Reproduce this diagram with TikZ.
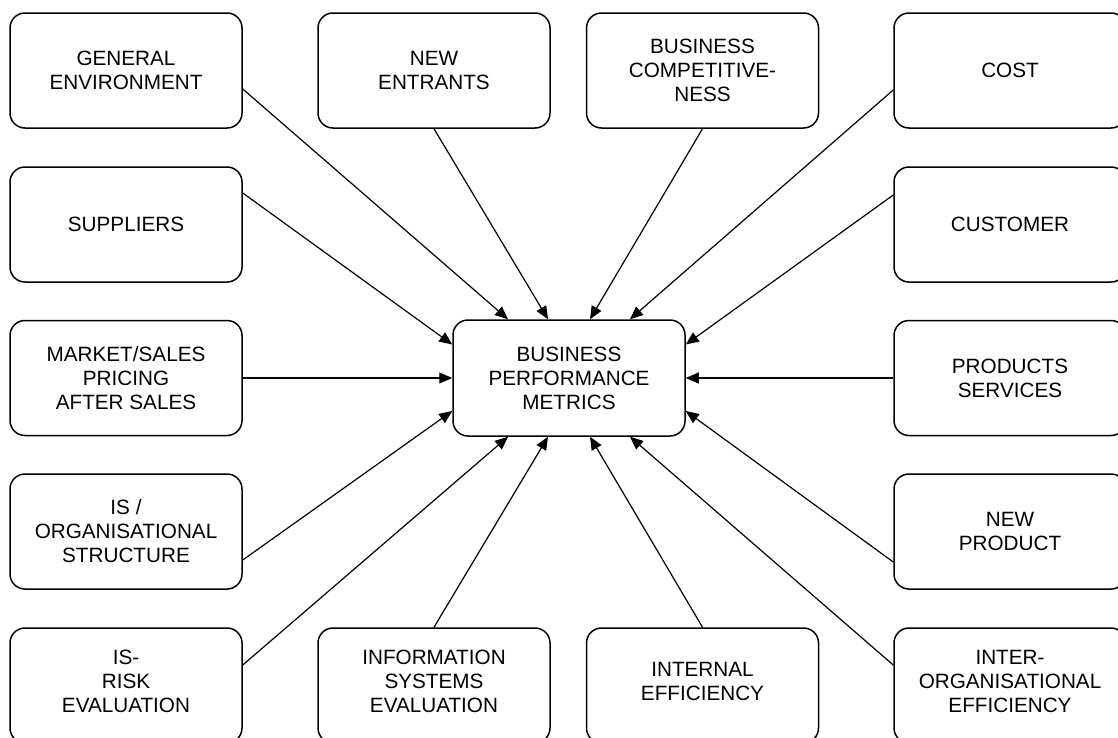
\documentclass[tikz,border=0pt]{standalone}
\usepackage{fontspec}
\setmainfont{Liberation Sans}
\usetikzlibrary{arrows.meta}
\begin{document}
\begin{tikzpicture}[x=1pt,y=-1pt,
  box/.style={draw, line width=1.5pt, rounded corners=15pt, minimum width=232pt, minimum height=115pt,
    inner sep=0pt, align=center, font=\fontsize{20.7}{24}\selectfont},
  lowbox/.style={box, text depth=9pt},
  arr/.style={line width=1.2pt, -{Triangle[length=13pt,width=11pt]}}]
\useasboundingbox (0,0) rectangle (1118,737);
\clip (0,0) rectangle (1118,737);
\fill[white] (0,0) rectangle (1118,737);
% boxes
\node[box] (ge) at (126,70.5) {GENERAL\\ENVIRONMENT};
\node[box] (ne) at (434,70.5) {NEW\\ENTRANTS};
\node[box] (bc) at (702.5,70.5) {BUSINESS\\COMPETITIVE-\\NESS};
\node[box] (cost) at (1010,70.5) {COST};
\node[box] (sup) at (126,224.5) {SUPPLIERS};
\node[box] (cust) at (1010,224.5) {CUSTOMER};
\node[box] (mkt) at (126,378) {MARKET/SALES\\PRICING\\AFTER SALES};
\node[box, minimum height=116pt] (bpm) at (569,378) {BUSINESS\\PERFORMANCE\\METRICS};
\node[box] (prod) at (1010,378) {PRODUCTS\\SERVICES};
\node[box] (iso) at (126,531.5) {IS /\\ORGANISATIONAL\\STRUCTURE};
\node[box] (np) at (1010,531.5) {NEW\\PRODUCT};
\node[lowbox] (risk) at (126,685.5) {IS-\\RISK\\EVALUATION};
\node[lowbox] (ise) at (434,685.5) {INFORMATION\\SYSTEMS\\EVALUATION};
\node[lowbox] (ie) at (702.5,685.5) {INTERNAL\\EFFICIENCY};
\node[lowbox] (io) at (1010,685.5) {INTER-\\ORGANISATIONAL\\EFFICIENCY};
% connectors
\draw[arr] ([yshift=-18.5pt]ge.east) -- ([xshift=-61pt]bpm.north);
\draw[arr] (ne.south) -- ([xshift=-21pt]bpm.north);
\draw[arr] (bc.south) -- ([xshift=21pt]bpm.north);
\draw[arr] ([yshift=-19.5pt]cost.west) -- ([xshift=61pt]bpm.north);
\draw[arr] ([yshift=31.5pt]sup.east) -- ([yshift=33.5pt]bpm.west);
\draw[arr] ([yshift=29.5pt]cust.west) -- ([yshift=33.5pt]bpm.east);
\draw[arr] (mkt.east) -- (bpm.west);
\draw[arr] (prod.west) -- (bpm.east);
\draw[arr] ([yshift=-28.5pt]iso.east) -- ([yshift=-33pt]bpm.west);
\draw[arr] ([yshift=-30.5pt]np.west) -- ([yshift=-33pt]bpm.east);
\draw[arr] ([yshift=20.5pt]risk.east) -- ([xshift=-61pt]bpm.south);
\draw[arr] (ise.north) -- ([xshift=-21pt]bpm.south);
\draw[arr] (ie.north) -- ([xshift=21pt]bpm.south);
\draw[arr] ([yshift=20.5pt]io.west) -- ([xshift=61pt]bpm.south);
\end{tikzpicture}
\end{document}
